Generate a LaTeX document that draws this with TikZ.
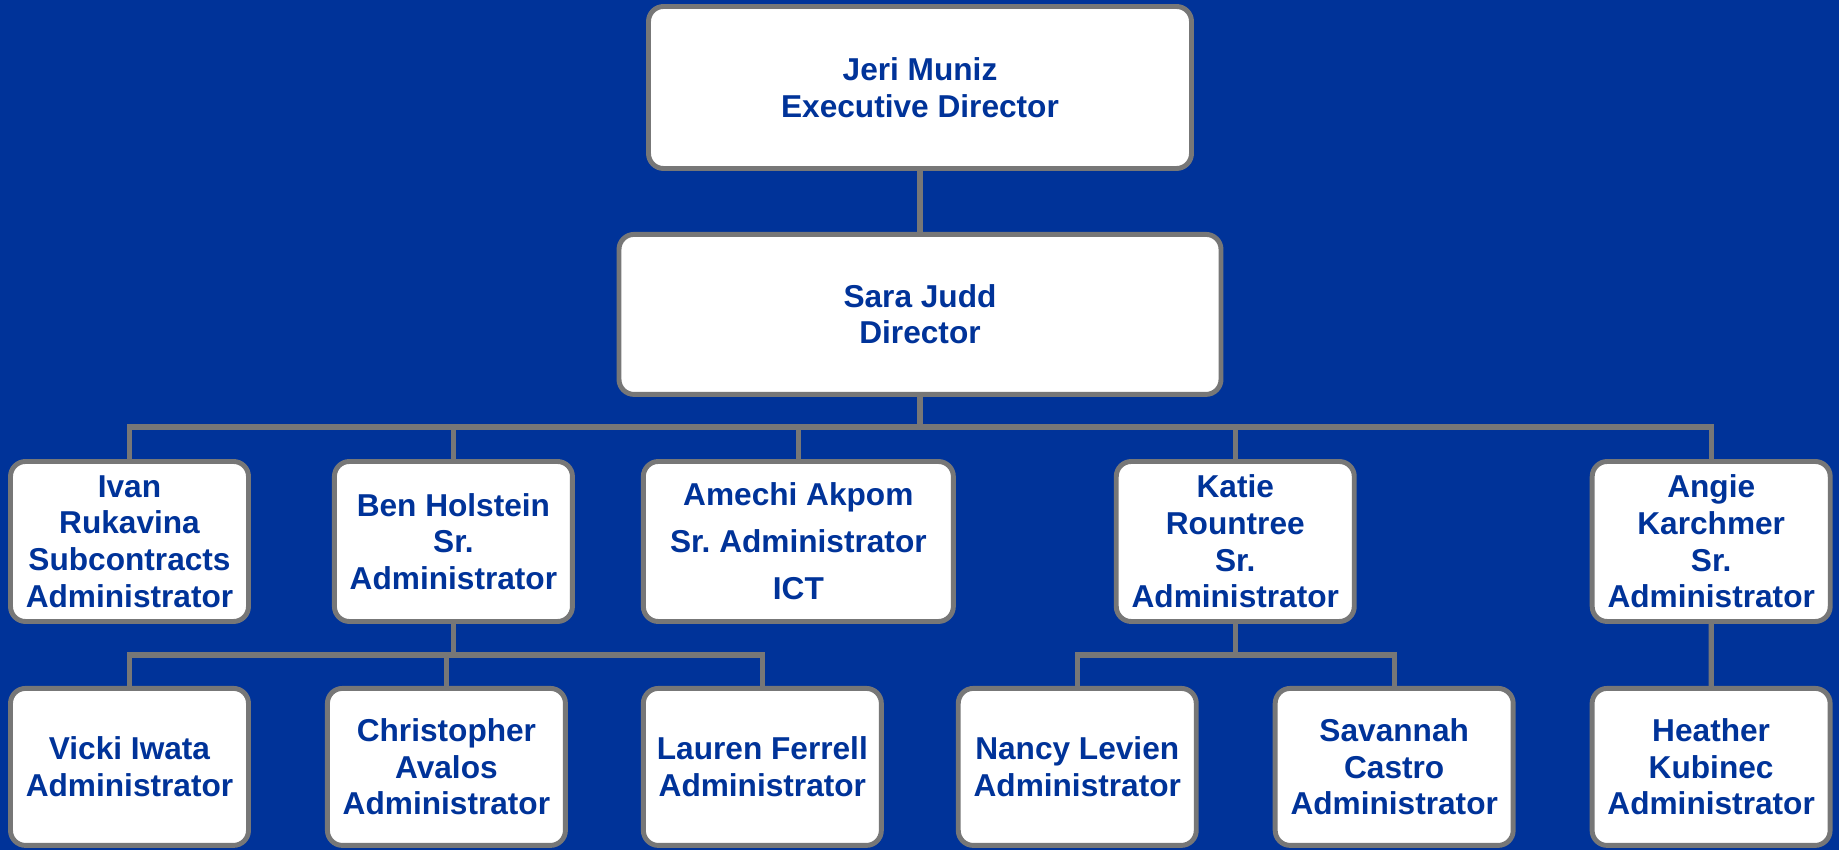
\documentclass[tikz,border=0pt]{standalone}
\usepackage{fontspec}
\setmainfont{Liberation Sans}
\usetikzlibrary{positioning}
\definecolor{orgblue}{RGB}{0,51,153}
\definecolor{linegray}{RGB}{119,119,119}
\frenchspacing

\begin{document}
\begin{tikzpicture}[node distance=0.62cm,
    person/.style={rectangle, rounded corners=0.15cm, draw=linegray, line width=1.4pt, fill=white, text=orgblue, align=center, inner sep=0pt, font=\bfseries\fontsize{9}{10.4}\selectfont, minimum width=2.38cm, minimum height=1.60cm},
    link/.style={draw=linegray, line width=1.5pt}]
    \fill[orgblue] (0,0) rectangle (18.39,-8.5);

    \node (jeri) [person, minimum width=5.43cm, minimum height=1.62cm] at (9.20,-0.875) {Jeri Muniz\\Executive Director};
    \node (sara) [person, below=0.61cm of jeri, minimum width=6.02cm] {Sara Judd\\Director};

    \node (ivan) [person] at (1.295,-5.415) {Ivan\\Rukavina\\Subcontracts\\Administrator};
    \node (ben) [person, right=0.81cm of ivan] {Ben Holstein\\Sr.\\Administrator};
    \node (amechi) [person, right=0.66cm of ben, minimum width=3.10cm, font=\bfseries\fontsize{9}{13.4}\selectfont] {Amechi Akpom\\Sr. Administrator\\ICT};
    \node (katie) [person, right=1.58cm of amechi] {Katie\\Rountree\\Sr.\\Administrator};
    \node (angie) [person, right=2.33cm of katie] {Angie\\Karchmer\\Sr.\\Administrator};

    \node (vicki) [person, below=of ivan, minimum height=1.57cm] {Vicki Iwata\\Administrator};
    \node (christopher) [person, right=0.74cm of vicki, minimum height=1.57cm] {Christopher\\Avalos\\Administrator};
    \node (lauren) [person, right=0.73cm of christopher, minimum height=1.57cm] {Lauren Ferrell\\Administrator};
    \node (nancy) [person, right=0.72cm of lauren, minimum height=1.57cm] {Nancy Levien\\Administrator};
    \node (savannah) [person, right=0.74cm of nancy, minimum height=1.57cm] {Savannah\\Castro\\Administrator};
    \node (heather) [person, right=0.74cm of savannah, minimum height=1.57cm] {Heather\\Kubinec\\Administrator};

    \draw [link] (jeri) -- (sara);
    \draw [link] (sara.south) -- ++(0,-0.30) coordinate (busa);
    \draw [link] (ivan.north) |- (busa);
    \draw [link] (ben.north) |- (busa);
    \draw [link] (amechi.north) |- (busa);
    \draw [link] (katie.north) |- (busa);
    \draw [link] (angie.north) |- (busa);

    \draw [link] (ben.south) -- ++(0,-0.31) coordinate (busb);
    \draw [link] (vicki.north) |- (busb);
    \draw [link] (christopher.north) |- (busb);
    \draw [link] (lauren.north) |- (busb);

    \draw [link] (katie.south) -- ++(0,-0.31) coordinate (busc);
    \draw [link] (nancy.north) |- (busc);
    \draw [link] (savannah.north) |- (busc);

    \draw [link] (angie) -- (heather);
\end{tikzpicture}
\end{document}
